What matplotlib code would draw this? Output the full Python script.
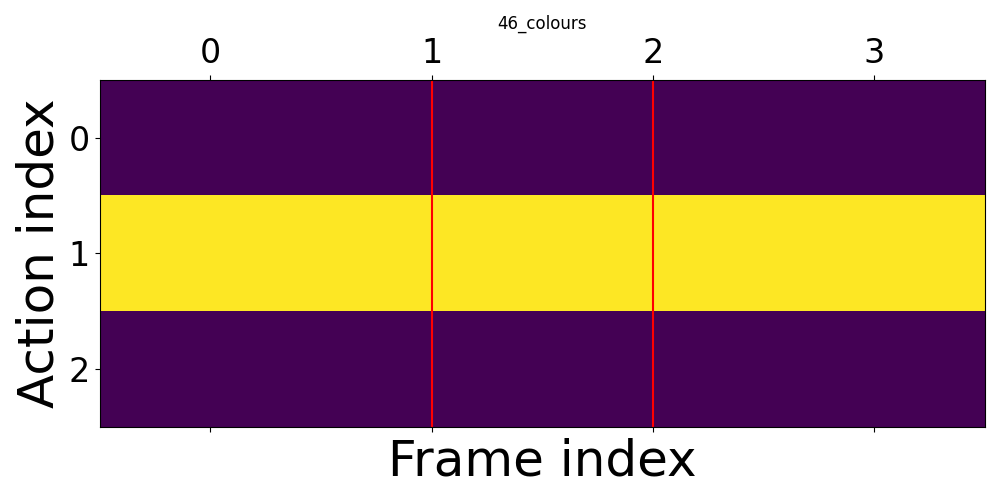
import matplotlib
matplotlib.use("Agg")
import matplotlib.pyplot as plt
import numpy as np

# action matrix: rows = actions, columns = frames
actions = [0, 1, 2]
frames = [0, 1, 2, 3]
row0 = [0, 0, 0, 0]
row1 = [1, 1, 1, 1]
row2 = [0, 0, 0, 0]
marker_frames = [1, 2]

grid = np.array([row0, row1, row2])

fig, ax = plt.subplots(figsize=(10, 5), dpi=100)
ax.imshow(grid, aspect="auto", cmap="viridis", interpolation="nearest")

for f in marker_frames:
    ax.axvline(f, color="red")

ax.set_xticks(frames)
ax.set_yticks(actions)
ax.tick_params(axis="x", top=True, labeltop=True, bottom=True, labelbottom=False, labelsize=24)
ax.tick_params(axis="y", labelsize=24)
ax.set_xlabel("Frame index", fontsize=36)
ax.set_ylabel("Action index", fontsize=36)
ax.set_title("46_colours")

fig.tight_layout()
fig.savefig("out.png")
